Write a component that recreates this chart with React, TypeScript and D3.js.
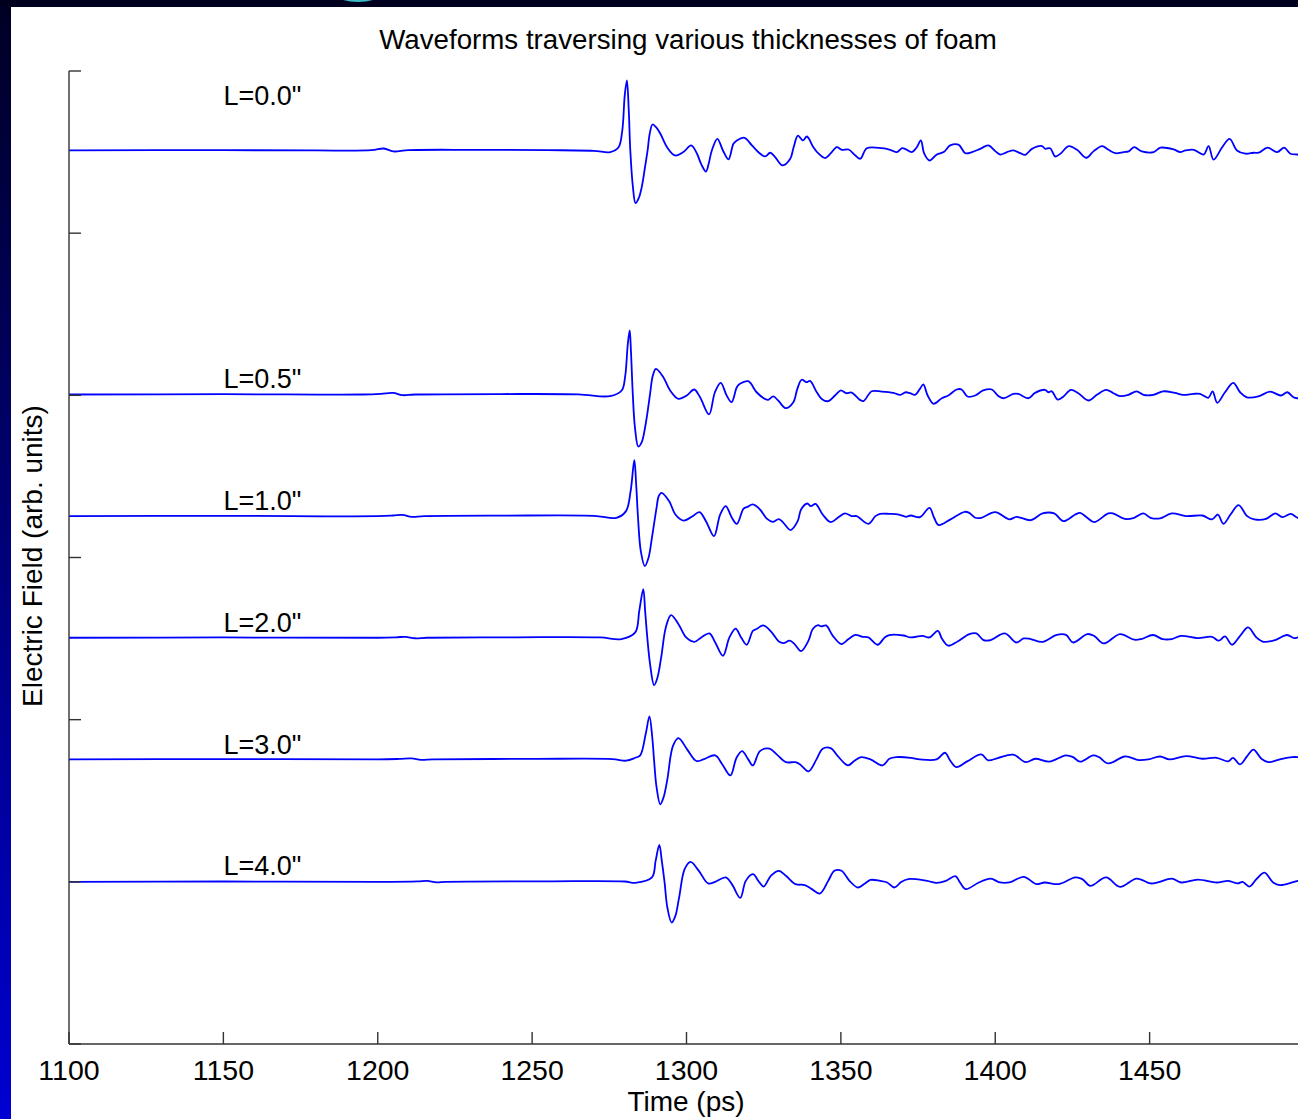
import React, { useEffect } from "react";
import * as d3 from "d3";

// ---------- data ----------
const title = "Waveforms traversing various thicknesses of foam";
const xLabel = "Time (ps)";
const yLabel = "Electric Field (arb. units)";
const xTicks = [1100, 1150, 1200, 1250, 1300, 1350, 1400, 1450];
const yTicks = [0, 1, 2, 3, 4, 5, 6];
const xDomain = [1100, 1500];
const yDomain = [0, 6];

const traceNames = ['L=0.0"', 'L=0.5"', 'L=1.0"', 'L=2.0"', 'L=3.0"', 'L=4.0"'];
const traceOffsets = [5.51, 4.005, 3.255, 2.505, 1.755, 1.0];
const labelTime = 1150;
const labelLevels = [5.79, 4.045, 3.293, 2.54, 1.788, 1.042];

type P = [number, number];

const waveL00: P[] = [[1100,0],[1150,0.002],[1180,0],[1198,0.002],[1202,0.012],[1205,-0.006],[1210,0.002],[1230,0.004],[1255,0.002],[1270,-0.002],[1275.3,-0.010],[1278.0,0.020],[1279.2,0.123],[1280.0,0.340],[1280.7,0.432],[1281.3,0.247],[1281.8,0],[1282.6,-0.216],[1283.5,-0.325],[1284.5,-0.296],[1285.5,-0.226],[1286.5,-0.111],[1287.4,0],[1288.1,0.105],[1289.0,0.160],[1290.2,0.142],[1291.5,0.105],[1293.7,0.020],[1296.3,-0.031],[1299.0,-0.010],[1301.5,0.031],[1303.4,-0.020],[1304.8,-0.086],[1306.3,-0.130],[1307.2,-0.080],[1308.2,0],[1310.0,0.072],[1311.8,0],[1313.6,-0.055],[1315.2,0.041],[1316.3,0.062],[1318.8,0.078],[1321.2,0.031],[1323.9,-0.020],[1325.5,-0.037],[1327.1,-0.014],[1328.7,-0.041],[1331.1,-0.092],[1333.6,-0.051],[1334.7,0.020],[1336.1,0.091],[1337.7,0.062],[1339.0,0.086],[1341.1,0.020],[1342.8,-0.020],[1344.9,-0.047],[1346.6,-0.020],[1348.7,0.020],[1350.3,0.004],[1352.5,0.006],[1354.7,-0.031],[1356.3,-0.051],[1358.4,0.014],[1363.3,0.014],[1366.0,0.004],[1368.2,-0.010],[1369.8,0.014],[1370.8,0.010],[1373.0,-0.010],[1374.6,0.020],[1375.9,0.062],[1377.0,-0.020],[1378.7,-0.062],[1381.1,-0.025],[1383.3,-0.010],[1385.4,0.031],[1388.1,0.036],[1390.3,-0.017],[1392.5,-0.010],[1395.1,0.010],[1397.8,0.031],[1400.0,-0.004],[1401.6,-0.025],[1403.8,-0.010],[1405.9,0],[1408.1,-0.017],[1409.7,-0.027],[1411.9,0.010],[1415.1,0.027],[1416.2,0.010],[1417.8,0.014],[1419.4,-0.037],[1421.1,-0.020],[1423.8,0.027],[1426.5,0.004],[1429.5,-0.045],[1431.9,-0.004],[1434.6,0.027],[1436.7,0.004],[1438.9,-0.017],[1441.6,-0.010],[1443.2,-0.006],[1445.0,0.020],[1447.5,-0.006],[1451.3,-0.010],[1453.5,0.017],[1457.8,0.006],[1459.9,-0.010],[1461.6,0],[1464.3,0.004],[1467.5,-0.025],[1469.1,0.027],[1470.7,-0.057],[1473.5,0.020],[1475.9,0.072],[1478.3,0],[1481.0,-0.020],[1483.7,-0.014],[1485.3,-0.014],[1488.2,0.017],[1491.3,-0.010],[1493.6,0.017],[1495.6,-0.020],[1497.8,-0.025],[1500,-0.025]];

const waveL05: P[] = [[1100,0],[1150,0.002],[1195,0],[1201,0.004],[1205,0.010],[1208,-0.004],[1212,0],[1240,0.003],[1265,0.001],[1275.2,-0.010],[1279.0,0.025],[1280.1,0.107],[1281.0,0.313],[1281.6,0.395],[1282.0,0.271],[1282.6,0.004],[1283.3,-0.202],[1284.4,-0.321],[1285.5,-0.294],[1286.6,-0.202],[1287.3,-0.119],[1288.2,0.004],[1289.1,0.117],[1290.1,0.158],[1292.5,0.107],[1294.7,0.025],[1297.4,-0.027],[1300.1,-0.006],[1302.5,0.031],[1304.4,-0.017],[1307.3,-0.123],[1309.2,0.014],[1311.1,0.072],[1313.0,-0.006],[1314.6,-0.047],[1316.3,0.045],[1317.3,0.066],[1320.0,0.082],[1322.7,0.014],[1325.4,-0.027],[1326.5,-0.033],[1328.1,-0.012],[1329.7,-0.037],[1332.1,-0.084],[1334.6,-0.047],[1335.9,0.035],[1337.3,0.091],[1338.9,0.076],[1340.0,0.084],[1342.2,0.014],[1343.8,-0.027],[1345.9,-0.041],[1348.1,-0.006],[1350.0,0.025],[1351.7,0.008],[1353.5,0.012],[1356.2,-0.033],[1357.3,-0.041],[1360.0,0.020],[1363.2,0.018],[1367.0,0.010],[1369.2,-0.002],[1371.0,0.014],[1372.4,0.008],[1374.0,-0.002],[1375.6,0.035],[1376.7,0.062],[1378.1,-0.006],[1380.0,-0.057],[1382.7,-0.023],[1384.8,-0.006],[1387.5,0.031],[1389.1,0.031],[1391.0,-0.012],[1393.5,-0.006],[1396.1,0.025],[1398.9,0.031],[1400.8,-0.006],[1402.6,-0.023],[1405.9,0.004],[1407.5,0.004],[1410.7,-0.023],[1412.9,0.010],[1416.1,0.029],[1417.2,0.014],[1418.3,0.020],[1420.2,-0.031],[1422.1,-0.012],[1424.5,0.029],[1426.9,0.008],[1430.2,-0.037],[1432.9,-0.002],[1435.9,0.029],[1438.3,0.008],[1440.4,-0.010],[1443.1,-0.002],[1445.8,0.020],[1448.0,-0.002],[1451.2,-0.002],[1454.4,0.020],[1458.2,0.010],[1460.9,-0.002],[1464.2,0.004],[1466.3,0.004],[1469.0,-0.020],[1470.4,0.020],[1471.9,-0.051],[1474.4,0.014],[1477.1,0.072],[1479.3,0.014],[1481.5,-0.017],[1485.2,-0.012],[1489.0,0.018],[1492.5,-0.006],[1494.6,0.014],[1496.6,-0.017],[1497.8,-0.023],[1500,-0.023]];

const waveL10: P[] = [[1100,0],[1150,0.002],[1200,0],[1205,0.004],[1208,0.008],[1211,-0.004],[1215,0],[1240,0.003],[1270,0.002],[1277.3,-0.010],[1280.4,0.031],[1281.9,0.154],[1283.1,0.345],[1283.7,0.195],[1284.3,-0.010],[1285.2,-0.216],[1286.5,-0.308],[1287.7,-0.257],[1288.8,-0.134],[1290.3,0.051],[1291.0,0.123],[1291.9,0.144],[1294.4,0.092],[1296.4,0.010],[1299.0,-0.027],[1301.7,-0.004],[1304.2,0.025],[1306.3,-0.031],[1308.9,-0.123],[1310.9,0.010],[1312.7,0.062],[1314.7,-0.010],[1316.3,-0.047],[1318.5,0.047],[1319.7,0.057],[1321.5,0.072],[1323.8,0.041],[1326.1,-0.017],[1327.9,-0.035],[1329.9,-0.018],[1331.4,-0.041],[1333.7,-0.086],[1336.0,-0.031],[1337.1,0.041],[1339.1,0.078],[1340.3,0.062],[1341.8,0.076],[1344.1,0.010],[1346.7,-0.037],[1349.0,-0.010],[1351.3,0.017],[1353.5,0],[1355.1,0],[1358.9,-0.047],[1361.2,0],[1362.7,0.014],[1365.7,0.014],[1368.8,0.010],[1371.1,-0.004],[1372.6,0.004],[1375.6,-0.006],[1378.7,0.051],[1380.2,-0.010],[1381.7,-0.055],[1385.5,-0.020],[1390.1,0.027],[1391.6,0.020],[1393.5,-0.010],[1395.5,-0.010],[1400.0,0.025],[1404.6,-0.020],[1406.9,-0.004],[1411.5,-0.025],[1415.3,0.017],[1419.1,0.017],[1422.1,-0.031],[1425.9,0.010],[1427.5,0.020],[1429.8,-0.010],[1432.0,-0.037],[1436.6,0.017],[1438.1,0.017],[1441.9,-0.017],[1445.0,-0.010],[1448.0,0.017],[1450.3,-0.010],[1453.4,-0.014],[1457.2,0.017],[1461.8,0],[1467.1,0.004],[1470.2,-0.020],[1472.1,0.010],[1473.9,-0.047],[1476.2,0.010],[1478.8,0.068],[1481.6,0],[1483.9,-0.020],[1487.7,-0.017],[1490.7,0.017],[1493.0,-0.006],[1495.7,0.014],[1498.0,-0.010],[1500,-0.010]];

const waveL20: P[] = [[1100,0],[1150,0.002],[1200,0],[1206,0.003],[1209,0.006],[1212,-0.003],[1216,0],[1245,0.003],[1272,0.002],[1278.9,-0.008],[1283.4,0.033],[1284.7,0.166],[1286.0,0.300],[1286.6,0.166],[1287.3,0.002],[1288.2,-0.162],[1289.5,-0.292],[1290.6,-0.245],[1291.8,-0.121],[1293.3,0.064],[1295.0,0.140],[1297.4,0.084],[1299.9,0.002],[1302.5,-0.025],[1304.8,0.002],[1307.4,0.027],[1309.3,-0.029],[1311.8,-0.111],[1313.9,0.002],[1315.9,0.057],[1317.7,0.002],[1319.5,-0.043],[1321.5,0.043],[1322.7,0.054],[1324.9,0.076],[1327.6,0.033],[1329.9,-0.023],[1331.4,-0.033],[1333.4,-0.018],[1335.0,-0.039],[1337.1,-0.082],[1339.5,-0.018],[1340.9,0.054],[1342.6,0.078],[1343.6,0.070],[1345.2,0.076],[1347.4,0.012],[1350.2,-0.039],[1352.5,-0.008],[1354.7,0.018],[1357.0,0.006],[1358.9,0.002],[1361.9,-0.043],[1364.2,0.002],[1365.7,0.017],[1370.3,0.014],[1372.6,0.002],[1376.4,0.012],[1378.7,0.002],[1381.4,0.043],[1382.8,-0.008],[1384.8,-0.049],[1387.8,-0.023],[1391.6,0.023],[1393.9,0.027],[1396.2,-0.014],[1398.5,-0.014],[1403.1,0.027],[1406.9,-0.029],[1409.2,-0.004],[1411.5,-0.008],[1415.3,-0.025],[1419.9,0.018],[1422.9,0.018],[1425.2,-0.029],[1429.8,0.023],[1432.0,0.012],[1435.1,-0.035],[1440.4,0.023],[1445.0,-0.012],[1447.3,-0.008],[1451.1,0.017],[1454.2,-0.008],[1457.2,-0.008],[1460.2,0.012],[1465.6,-0.002],[1470.2,0.006],[1472.4,-0.018],[1474.4,0.008],[1476.7,-0.043],[1479.3,0.012],[1481.9,0.064],[1484.6,0.002],[1486.9,-0.025],[1490.7,-0.014],[1494.5,0.017],[1496.8,-0.002],[1498.0,0.002],[1500,0.004]];

const waveL30: P[] = [[1100,0],[1150,0.002],[1200,0],[1207,0.003],[1211,0.006],[1214,-0.003],[1218,0],[1250,0.003],[1276,0.002],[1280.4,-0.008],[1283.4,0.010],[1285.0,0.025],[1286.8,0.158],[1288.0,0.265],[1288.9,0.138],[1289.5,-0.006],[1290.3,-0.171],[1291.5,-0.277],[1292.6,-0.232],[1293.8,-0.123],[1295.6,0.082],[1297.4,0.131],[1300.2,0.062],[1303.2,-0.010],[1305.5,0],[1309.3,0.025],[1311.6,-0.031],[1314.2,-0.099],[1316.2,0.010],[1318.0,0.051],[1320.0,0],[1321.5,-0.037],[1323.8,0.051],[1326.9,0.066],[1329.2,0.031],[1332.2,-0.017],[1335.3,-0.017],[1336.8,-0.031],[1339.5,-0.074],[1342.1,0],[1344.1,0.066],[1346.7,0.070],[1349.0,0.020],[1352.3,-0.037],[1354.3,-0.010],[1356.6,0.014],[1359.6,0],[1363.5,-0.037],[1365.7,0.004],[1368.0,0.014],[1372.6,0.010],[1375.6,0],[1381.0,0],[1383.7,0.041],[1385.5,-0.010],[1387.4,-0.047],[1390.9,-0.012],[1395.5,0.031],[1397.7,-0.006],[1400.8,0.008],[1405.8,0.029],[1409.9,-0.017],[1413.0,0.004],[1417.5,-0.014],[1422.9,0.025],[1425.2,0.014],[1427.5,-0.014],[1431.7,0.025],[1433.6,0.014],[1436.6,-0.025],[1442.0,0.018],[1446.5,-0.004],[1449.6,0],[1453.4,0.018],[1456.4,0],[1461.8,0.020],[1467.1,0.004],[1471.7,0.010],[1475.5,-0.012],[1477.0,0.010],[1479.3,-0.031],[1481.6,0.020],[1483.6,0.060],[1486.2,0.004],[1488.4,-0.017],[1492.2,0],[1496.1,0.014],[1498.0,0.014],[1500,0.010]];

const waveL40: P[] = [[1100,0],[1150,0.002],[1200,0],[1213,0.003],[1216,0.006],[1219,-0.003],[1222,0],[1255,0.003],[1280,0.002],[1283.4,-0.006],[1288.8,0.027],[1290.0,0.129],[1291.2,0.228],[1292.0,0.129],[1292.9,-0.004],[1293.8,-0.158],[1295.2,-0.251],[1296.4,-0.210],[1297.6,-0.097],[1299.4,0.078],[1301.3,0.123],[1304.0,0.068],[1307.0,-0.010],[1309.3,0],[1312.7,0.027],[1314.7,-0.014],[1317.4,-0.099],[1319.2,0.006],[1321.5,0.047],[1323.5,0],[1325.0,-0.029],[1327.3,0.037],[1329.9,0.068],[1332.2,0.037],[1335.3,-0.014],[1338.3,-0.020],[1340.6,-0.045],[1343.2,-0.072],[1345.9,0.006],[1347.9,0.068],[1350.2,0.068],[1352.8,0.006],[1355.5,-0.035],[1357.8,-0.010],[1359.6,0.012],[1362.7,0.006],[1365.0,-0.004],[1367.3,-0.035],[1369.6,0],[1371.8,0.017],[1377.9,0.006],[1381.0,-0.006],[1384.0,0.006],[1387.1,0.035],[1388.6,-0.004],[1390.4,-0.045],[1394.7,-0.004],[1398.5,0.020],[1401.5,-0.004],[1404.6,-0.004],[1409.2,0.031],[1413.3,-0.014],[1416.0,-0.004],[1420.6,-0.014],[1425.9,0.027],[1428.2,0.017],[1430.8,-0.025],[1435.9,0.027],[1440.4,-0.031],[1445.8,0.020],[1450.3,-0.010],[1452.6,-0.004],[1457.2,0.020],[1460.2,-0.004],[1465.6,0.014],[1471.7,-0.004],[1475.5,0.006],[1478.5,-0.010],[1480.1,0],[1482.3,-0.029],[1484.6,0.017],[1487.2,0.057],[1490.0,-0.004],[1492.2,-0.020],[1496.8,0],[1498.0,0.006],[1500,0.008]];

const waves: P[][] = [waveL00, waveL05, waveL10, waveL20, waveL30, waveL40];

// ---------- layout ----------
const W = 1298;
const H = 1119;
const M = { left: 69, right: 1304, top: 71, bottom: 1044 };
const FONT = "'Liberation Sans', Arial, Helvetica, sans-serif";

export default function App() {
  useEffect(() => {
    document.body.style.margin = "0";
    document.body.style.overflow = "hidden";
  }, []);

  const x = d3.scaleLinear().domain(xDomain).range([M.left, M.right]);
  const y = d3.scaleLinear().domain(yDomain).range([M.bottom, M.top]);

  const paths = waves.map((w, i) => {
    const off = traceOffsets[i];
    const line = d3
      .line<P>()
      .x((d) => x(d[0]))
      .y((d) => y(off + d[1]))
      .curve(d3.curveCatmullRom.alpha(0.5));
    return line(w) || "";
  });

  return (
    <svg
      width={W}
      height={H}
      viewBox={`0 0 ${W} ${H}`}
      style={{ position: "absolute", left: 0, top: 0, display: "block" }}
    >
      <defs>
        <linearGradient id="sideGrad" x1="0" y1="0" x2="0" y2="1">
          <stop offset="0" stopColor="#000024" />
          <stop offset="0.5" stopColor="#00007a" />
          <stop offset="1" stopColor="#0000d2" />
        </linearGradient>
        <clipPath id="plotClip">
          <rect x={11} y={7} width={W - 11} height={H - 7} />
        </clipPath>
      </defs>
      {/* slide background frame */}
      <rect x={0} y={0} width={W} height={H} fill="url(#sideGrad)" />
      <rect x={0} y={0} width={W} height={7} fill="#00001e" />
      <circle cx={358} cy={-55} r={57} fill="#3cbcc4" />
      <rect x={11} y={7} width={W - 11} height={H - 7} fill="#ffffff" />

      <g clipPath="url(#plotClip)">
        {/* title */}
        <text x={688} y={49} textAnchor="middle" fontFamily={FONT} fontSize={27.7} fill="#000">
          {title}
        </text>

        {/* traces */}
        {paths.map((d, i) => (
          <path key={i} d={d} fill="none" stroke="#0000ff" strokeWidth={1.8} strokeLinejoin="round" />
        ))}

        {/* trace labels */}
        {traceNames.map((n, i) => (
          <text
            key={n}
            x={x(labelTime)}
            y={y(labelLevels[i])}
            fontFamily={FONT}
            fontSize={27}
            fill="#000"
          >
            {n}
          </text>
        ))}

        {/* axes */}
        <line x1={M.left} x2={M.left} y1={M.top} y2={M.bottom} stroke="#333" strokeWidth={1.4} />
        <line x1={M.left} x2={M.right} y1={M.bottom} y2={M.bottom} stroke="#333" strokeWidth={1.4} />
        {yTicks.map((t) => (
          <line key={"yt" + t} x1={M.left} x2={M.left + 12} y1={y(t)} y2={y(t)} stroke="#333" strokeWidth={1.4} />
        ))}
        {xTicks.map((t) => (
          <g key={"xt" + t}>
            <line x1={x(t)} x2={x(t)} y1={M.bottom} y2={M.bottom - 12} stroke="#333" strokeWidth={1.4} />
            <text x={x(t)} y={M.bottom + 36} textAnchor="middle" fontFamily={FONT} fontSize={28.5} fill="#000">
              {t}
            </text>
          </g>
        ))}

        {/* axis labels */}
        <text x={686} y={1111} textAnchor="middle" fontFamily={FONT} fontSize={28} fill="#000">
          {xLabel}
        </text>
        <text
          transform={`translate(42, 556) rotate(-90)`}
          textAnchor="middle"
          fontFamily={FONT}
          fontSize={28}
          fill="#000"
        >
          {yLabel}
        </text>
      </g>
    </svg>
  );
}
